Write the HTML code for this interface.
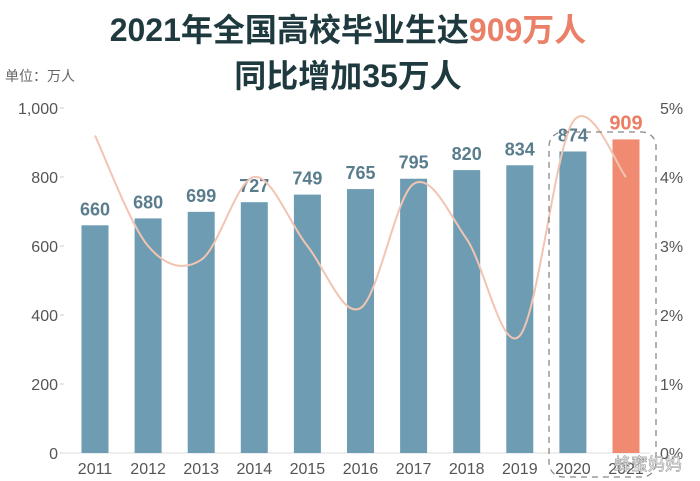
<!DOCTYPE html>
<html><head><meta charset="utf-8"><style>
body{margin:0;background:#fff;}
svg{display:block;font-family:"Liberation Sans","Noto Sans CJK SC",sans-serif;}
</style></head><body>
<svg id="chart" width="700" height="481" viewBox="0 0 700 481">
<text x="348" y="41" text-anchor="middle" font-size="32" font-weight="bold" fill="#1f3a3f">2021年全国高校毕业生达<tspan fill="#ea8068">909万人</tspan></text>
<text x="348" y="87" text-anchor="middle" font-size="32" font-weight="bold" fill="#1f3a3f">同比增加35万人</text>
<text x="5" y="81" font-size="14" fill="#666">单位：万人</text>
<g id="grid"></g><g id="bars"></g><g id="line"></g>
<rect x="549" y="132" width="107" height="345" rx="14" fill="none" stroke="#888" stroke-width="1.3" stroke-dasharray="6,5"/>
<text x="648" y="470" font-size="17" fill="#fff" stroke="#999" stroke-width="0.6" text-anchor="middle">蜂蜜妈妈</text>
</svg>
<script>
const categories=["2011","2012","2013","2014","2015","2016","2017","2018","2019","2020","2021"];
const graduates=[660,680,699,727,749,765,795,820,834,874,909];
const growth=[4.6,3.0,2.8,4.0,3.0,2.1,3.9,3.1,1.7,4.8,4.0];
const leftTicks=[0,200,400,600,800,1000];
const leftTickLabels=["0","200","400","600","800","1,000"];
const rightTicks=[0,1,2,3,4,5];
const NS="http://www.w3.org/2000/svg";
const y0=453,y1=108;
const yL=v=>y0-(v/1000)*(y0-y1);
const yR=v=>y0-(v/5)*(y0-y1);
const xC=i=>95+i*53.1;
function mk(t,a,p){const e=document.createElementNS(NS,t);for(const k in a)e.setAttribute(k,a[k]);p.appendChild(e);return e;}
const grid=document.getElementById('grid'),bars=document.getElementById('bars'),line=document.getElementById('line');
leftTicks.forEach((v,i)=>{
 const t=mk('text',{x:58,y:yL(v)+6,'text-anchor':'end','font-size':16,fill:'#555'},grid);
 t.textContent=leftTickLabels[i];
 
 
 mk('line',{x1:60,x2:64,y1:yL(v),y2:yL(v),stroke:'#ccc'},grid);
});
mk('line',{x1:62,x2:650,y1:y0,y2:y0,stroke:'#ddd'},grid);
rightTicks.forEach(v=>{
 const t=mk('text',{x:660,y:yR(v)+6,'font-size':16,fill:'#555'},grid);
 t.textContent=v+'%';
 
 
});
categories.forEach((c,i)=>{
 const last=i===categories.length-1;
 const r=mk('rect',{x:xC(i)-13.5,y:yL(graduates[i]),width:27,height:y0-yL(graduates[i]),fill:last?'#f08a70':'#6e9db3'},bars);
 
 
 const v=mk('text',{x:xC(i),y:yL(graduates[i])-10,'text-anchor':'middle','font-size':last?20:18,'font-weight':'bold',fill:last?'#ea7d62':'#5a7d8e'},bars);
 v.textContent=graduates[i];
 
 
 const l=mk('text',{x:xC(i),y:474,'text-anchor':'middle','font-size':16,fill:'#555'},bars);
 l.textContent=c;
 
 
});
const pts=growth.map((g,i)=>[xC(i),yR(g)]);
let d='M'+pts[0][0]+','+pts[0][1];
for(let i=0;i<pts.length-1;i++){
 const p0=pts[Math.max(0,i-1)],p1=pts[i],p2=pts[i+1],p3=pts[Math.min(pts.length-1,i+2)];
 const c1=[p1[0]+(p2[0]-p0[0])/6,p1[1]+(p2[1]-p0[1])/6],c2=[p2[0]-(p3[0]-p1[0])/6,p2[1]-(p3[1]-p1[1])/6];
 d+=' C'+c1+' '+c2+' '+p2;
}
const path=mk('path',{d:d,fill:'none',stroke:'#f2c4b2',"stroke-width":2},line);


</script>
</body></html>
